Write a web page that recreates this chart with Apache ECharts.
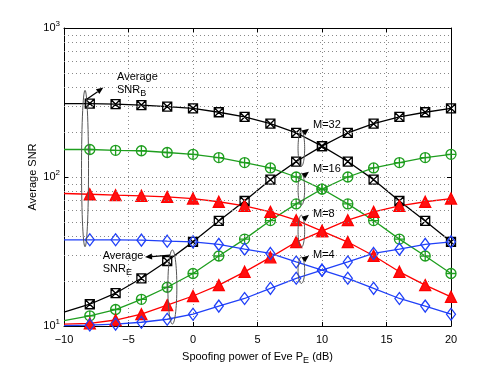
<!DOCTYPE html>
<html>
<head>
<meta charset="utf-8">
<script src="https://cdn.jsdelivr.net/npm/echarts@6/dist/echarts.min.js"></script>
<style>
  html, body { margin: 0; padding: 0; background: #fff; }
  #main { width: 498px; height: 372px; }
</style>
</head>
<body>
<div id="main"></div>
<script>
// spoofing power of Eve (dB)
const xs = [-10, -8, -6, -4, -2, 0, 2, 4, 6, 8, 10, 12, 14, 16, 18, 20];

// average SNR at Bob (decreasing) and Eve (increasing), per M
const snrB32 = [311, 311, 308, 304, 297, 289, 272, 253, 228, 198, 161, 127, 96, 69, 50.7, 36.7];
const snrE32 = [12.4, 14.0, 16.6, 20.9, 27.3, 36.7, 50.7, 69, 96, 127, 161, 198, 228, 253, 272, 289];
const snrB16 = [153, 153, 151, 150, 146, 142, 135, 125, 115, 100, 83, 66, 51, 38.3, 29.5, 22.5];
const snrE16 = [10.85, 11.7, 12.9, 15.1, 18.2, 22.5, 29.5, 38.3, 51, 66, 83, 100, 115, 125, 135, 142];
const snrB8 = [77.5, 76.6, 75.5, 74.8, 73.5, 71.7, 68.2, 64.1, 58.3, 51.3, 43.3, 36.6, 29.6, 23.1, 18.8, 15.7];
const snrE8 = [10.3, 10.4, 10.97, 12.0, 13.8, 15.9, 18.8, 23.1, 28.9, 36.6, 43.3, 51.3, 58.3, 64.1, 68.2, 71.7];
const snrB4 = [37.9, 37.9, 37.9, 37.7, 37.1, 36.7, 35.3, 32.8, 30.7, 26.9, 23.7, 20.9, 17.9, 15.3, 13.6, 12.0];
const snrE4 = [10.05, 10.15, 10.3, 10.6, 11.1, 12.0, 13.6, 15.3, 17.9, 20.9, 23.7, 26.9, 30.7, 32.8, 35.3, 36.7];

// minor log grid lines (matlab style)
const minorY = [20, 30, 40, 50, 60, 70, 80, 90, 200, 300, 400, 500, 600, 700, 800, 900];

const FONT = "'Liberation Sans', Arial, sans-serif";
const SQX = 'path://M0,0L10,0L10,10L0,10Z M0,0L10,10 M10,0L0,10';
const OPLUS = 'path://M0,5A5,5 0 1 1 10,5A5,5 0 1 1 0,5Z M5,0L5,10 M0,5L10,5';

const styles = [
  { b: snrB32, e: snrE32, color: '#000000', symbol: SQX, size: 9, fill: 'rgba(0,0,0,0)' },
  { b: snrB16, e: snrE16, color: '#1e9e1e', symbol: OPLUS, size: 10, fill: 'rgba(0,0,0,0)' },
  { b: snrB8, e: snrE8, color: '#ff0000', symbol: 'triangle', size: 11, fill: '#ff1010' },
  { b: snrB4, e: snrE4, color: '#2040f8', symbol: 'diamond', size: [9, 12], fill: 'rgba(0,0,0,0)' }
];

function toData(vals) {
  // first point (x=-10) has no marker
  return xs.map((x, i) => i === 0 ? { value: [x, vals[i]], symbol: 'none' } : [x, vals[i]]);
}

let series = [];
styles.forEach(s => {
  [s.b, s.e].forEach(vals => {
    series.push({
      type: 'line',
      data: toData(vals),
      symbol: s.symbol,
      symbolSize: s.size,
      showSymbol: true,
      animation: false,
      lineStyle: { color: s.color, width: 1.3 },
      itemStyle: { color: s.fill, borderColor: s.color, borderWidth: 1.3 },
      z: 3
    });
  });
});

// dotted minor grid lines on the log axis
series[0].markLine = {
  silent: true,
  symbol: 'none',
  animation: false,
  label: { show: false },
  lineStyle: { color: '#888', type: [1, 3], width: 1 },
  data: minorY.map(v => ({ yAxis: v }))
};

const chart = echarts.init(document.getElementById('main'), null, { renderer: 'canvas' });

const tickStyle = { color: '#000', width: 1 };
chart.setOption({
  backgroundColor: '#fff',
  textStyle: { fontFamily: FONT },
  grid: { left: 64, right: 47, top: 28, bottom: 46, containLabel: false },
  xAxis: [{
    type: 'value', min: -10, max: 20, interval: 5, position: 'bottom',
    axisLine: { onZero: false, lineStyle: tickStyle },
    axisTick: { inside: true, length: 4, lineStyle: tickStyle },
    axisLabel: {
      color: '#000', fontSize: 11, margin: 8, fontFamily: FONT,
      formatter: v => v < 0 ? '\u2212' + Math.abs(v) : String(v)
    },
    splitLine: { show: true, lineStyle: { color: '#888', type: [1, 3], width: 1 } },
    name: 'Spoofing power of Eve P{sub|E} (dB)',
    nameLocation: 'middle', nameGap: 22,
    nameTextStyle: {
      color: '#000', fontSize: 11, fontFamily: FONT,
      rich: { sub: { fontSize: 9, padding: [8, 0, 0, 0], fontFamily: FONT, color: '#000' } }
    }
  }, {
    type: 'value', min: -10, max: 20, interval: 5, position: 'top',
    axisLine: { onZero: false, lineStyle: tickStyle },
    axisTick: { inside: true, length: 4, lineStyle: tickStyle },
    axisLabel: { show: false },
    splitLine: { show: false }
  }],
  yAxis: [{
    type: 'log', logBase: 10, min: 10, max: 1000, position: 'left',
    axisLine: { onZero: false, lineStyle: tickStyle },
    axisTick: { inside: true, length: 4, lineStyle: tickStyle },
    axisLabel: {
      margin: 4, color: '#000', fontFamily: FONT,
      formatter: v => '{b|10}{s|' + Math.round(Math.log10(v)) + '}',
      rich: {
        b: { fontSize: 11, fontFamily: FONT, color: '#000' },
        s: { fontSize: 8, fontFamily: FONT, color: '#000', padding: [0, 0, 8, 0] }
      }
    },
    splitLine: { show: true, lineStyle: { color: '#888', type: [1, 3], width: 1 } },
    name: 'Average SNR', nameLocation: 'middle', nameGap: 26, nameRotate: 90,
    nameMoveOverlap: false,
    nameTextStyle: { color: '#000', fontSize: 11, fontFamily: FONT }
  }, {
    type: 'log', logBase: 10, min: 10, max: 1000, position: 'right',
    axisLine: { onZero: false, lineStyle: tickStyle },
    axisTick: { inside: true, length: 4, lineStyle: tickStyle },
    axisLabel: { show: false },
    splitLine: { show: false }
  }],
  series: series
});

// annotations: ellipses, arrows and labels, placed in data coordinates
function px(x, y) {
  return chart.convertToPixel({ xAxisIndex: 0, yAxisIndex: 0 }, [x, y]);
}

function ellipse(cx, yTop, yBot, rw) {
  const a = px(cx, yTop), b = px(cx, yBot);
  const ccx = a[0], ccy = (a[1] + b[1]) / 2, ry = (b[1] - a[1]) / 2;
  let pts = [];
  for (let i = 0; i < 60; i++) {
    const t = i / 60 * Math.PI * 2;
    pts.push([ccx + rw * Math.cos(t), ccy + ry * Math.sin(t)]);
  }
  return {
    type: 'polygon', z: 100, silent: true,
    shape: { points: pts },
    style: { fill: 'none', stroke: '#555', lineWidth: 1 }
  };
}

function arrow(x0, y0, x1, y1) {
  const a = px(x0, y0), b = px(x1, y1);
  const dx = b[0] - a[0], dy = b[1] - a[1];
  const len = Math.sqrt(dx * dx + dy * dy);
  const ux = dx / len, uy = dy / len;
  const hl = 7, hw = 3;
  const base = [b[0] - ux * hl, b[1] - uy * hl];
  return [{
    type: 'line', z: 100, silent: true,
    shape: { x1: a[0], y1: a[1], x2: base[0], y2: base[1] },
    style: { stroke: '#000', lineWidth: 1.2 }
  }, {
    type: 'polygon', z: 100, silent: true,
    shape: { points: [b, [base[0] - uy * hw, base[1] + ux * hw], [base[0] + uy * hw, base[1] - ux * hw]] },
    style: { fill: '#000' }
  }];
}

function label(x, y, text, va) {
  const p = px(x, y);
  return {
    type: 'text', z: 100, silent: true,
    x: p[0], y: p[1],
    style: {
      text: text, fill: '#000', fontSize: 11, fontFamily: FONT,
      verticalAlign: va || 'middle', lineHeight: 13,
      rich: { sub: { fontSize: 9, fontFamily: FONT, fill: '#000', padding: [7, 0, 0, 0] } }
    }
  };
}

let graphics = [];
graphics.push(ellipse(-8.37, 382, 34, 3.5));
graphics.push(ellipse(-1.6, 32.4, 10.3, 4.5));
graphics.push(ellipse(8.4, 206, 118, 3.3));
graphics.push(ellipse(8.4, 106, 64.7, 3.3));
graphics.push(ellipse(8.4, 55.4, 33.8, 3.3));
graphics.push(ellipse(8.4, 29.1, 19.3, 3.3));

graphics = graphics.concat(arrow(-8.24, 332, -6.95, 398));
graphics = graphics.concat(arrow(-1.78, 29.9, -3.72, 29.0));
graphics = graphics.concat(arrow(8.53, 196.6, 8.99, 210.7));
graphics = graphics.concat(arrow(8.53, 101.2, 8.99, 108.6));
graphics = graphics.concat(arrow(8.53, 52.0, 8.99, 55.8));
graphics = graphics.concat(arrow(8.53, 27.7, 8.99, 29.7));

graphics.push(label(-5.89, 520, 'Average\nSNR{sub|B}', 'top'));
graphics.push(label(-7.0, 32.4, 'Average\nSNR{sub|E}', 'top'));
graphics.push(label(9.3, 222, 'M=32'));
graphics.push(label(9.3, 112.4, 'M=16'));
graphics.push(label(9.3, 56.3, 'M=8'));
graphics.push(label(9.3, 29.9, 'M=4'));

chart.setOption({ graphic: graphics });
</script>
</body>
</html>
